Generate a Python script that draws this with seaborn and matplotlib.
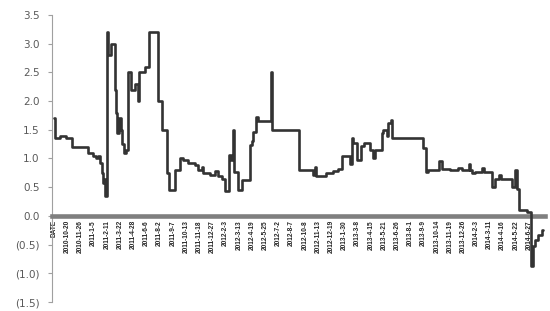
import numpy as np
import pandas as pd
import matplotlib
matplotlib.use("Agg")
import matplotlib.pyplot as plt
import seaborn as sns
from matplotlib.ticker import FuncFormatter

# ---- data ----
tick_labels = ["DATE", "2010-10-20", "2010-11-26", "2011-1-5", "2011-2-11", "2011-3-22",
               "2011-4-28", "2011-6-6", "2011-8-2", "2011-9-7", "2011-10-13", "2011-11-18",
               "2011-12-27", "2012-2-3", "2012-3-13", "2012-4-19", "2012-5-25", "2012-7-2",
               "2012-8-7", "2012-10-8", "2012-11-13", "2012-12-19", "2013-1-30", "2013-3-8",
               "2013-4-15", "2013-5-21", "2013-6-26", "2013-8-1", "2013-9-9", "2013-10-14",
               "2013-11-19", "2013-12-26", "2014-2-3", "2014-3-11", "2014-4-16", "2014-5-22",
               "2014-6-27"]
tick_step = 25  # one label every 25 trading days

day_index = [0, 1, 11, 23, 34, 64, 74, 80, 83, 87, 90, 93, 95, 97, 100, 102, 107, 115, 117,
             120, 123, 126, 128, 133, 136, 140, 145, 153, 158, 160, 172, 179, 196, 204, 213,
             218, 229, 239, 245, 254, 267, 273, 280, 283, 295, 305, 311, 318, 324, 332, 335,
             338, 340, 349, 356, 371, 374, 377, 383, 387, 411, 413, 463, 491, 495, 497, 516,
             529, 538, 545, 561, 564, 567, 573, 581, 587, 599, 605, 608, 621, 624, 630, 633,
             638, 640, 641, 699, 705, 709, 730, 735, 750, 766, 772, 786, 788, 791, 797, 811,
             815, 829, 835, 842, 846, 867, 873, 877, 881, 895, 903, 907, 912, 916, 924, 926]
values = [1.70, 1.35, 1.40, 1.35, 1.20, 1.10, 1.05, 1.00, 1.05, 0.92, 0.75, 0.57, 0.65, 0.35,
          3.20, 2.80, 3.00, 2.20, 1.80, 1.45, 1.70, 1.50, 1.25, 1.10, 1.15, 2.50, 2.20, 2.30,
          2.00, 2.50, 2.60, 3.20, 2.00, 1.50, 0.74, 0.45, 0.80, 1.00, 0.97, 0.93, 0.88, 0.80,
          0.85, 0.74, 0.71, 0.79, 0.70, 0.64, 0.44, 1.06, 0.98, 1.50, 0.77, 0.45, 0.63, 1.24,
          1.31, 1.47, 1.73, 1.65, 2.50, 1.50, 0.80, 0.71, 0.85, 0.70, 0.74, 0.78, 0.82, 1.05,
          0.90, 1.35, 1.27, 0.97, 1.22, 1.27, 1.15, 1.00, 1.15, 1.44, 1.50, 1.40, 1.61, 1.67,
          1.58, 1.35, 1.18, 0.77, 0.80, 0.95, 0.81, 0.80, 0.84, 0.80, 0.90, 0.80, 0.74, 0.77,
          0.84, 0.76, 0.51, 0.64, 0.72, 0.64, 0.50, 0.80, 0.47, 0.10, 0.06, -0.88, -0.53,
          -0.42, -0.33, -0.24, -0.24]

sns.set_theme(style="white")
plt.rcParams["font.family"] = ["DejaVu Sans"]

fig = plt.figure(figsize=(5.5, 3.11), dpi=100)
ax = fig.add_axes([52 / 550, 9 / 311, 493 / 550, 287 / 311])

df = pd.DataFrame({"idx": day_index, "val": values})
sns.lineplot(data=df, x="idx", y="val", ax=ax, color="#333333", linewidth=1.9,
             drawstyle="steps-post", estimator=None, zorder=3)

# spines first (moving a spine resets the ticks)
for s in ["top", "right"]:
    ax.spines[s].set_visible(False)
ax.spines["bottom"].set_position(("data", 0))
ax.spines["bottom"].set_color("#7f7f7f")
ax.spines["bottom"].set_linewidth(3.3)
ax.spines["left"].set_color("#a0a0a0")
ax.spines["left"].set_linewidth(0.8)

ax.set_xlim(-4, 930)
ax.set_ylim(-1.5, 3.5)
ax.set_yticks(np.arange(-1.5, 3.51, 0.5))
ax.yaxis.set_major_formatter(FuncFormatter(
    lambda v, p: f"({abs(v):.1f})" if v < -1e-9 else f"{abs(v):.1f}"))

ax.set_xticks([i * tick_step for i in range(len(tick_labels))])
ax.set_xticklabels(tick_labels, rotation=90, fontsize=4.7, fontweight="bold",
                   family=["Liberation Sans", "DejaVu Sans"], color="#262626")

ax.tick_params(axis="x", length=0, pad=3)
ax.tick_params(axis="y", left=True, length=3, width=0.8, color="#a0a0a0",
               labelsize=7.5, labelcolor="#595959", pad=6)
ax.set_xlabel("")
ax.set_ylabel("")
ax.grid(False)

fig.savefig("out.png", dpi=100)
